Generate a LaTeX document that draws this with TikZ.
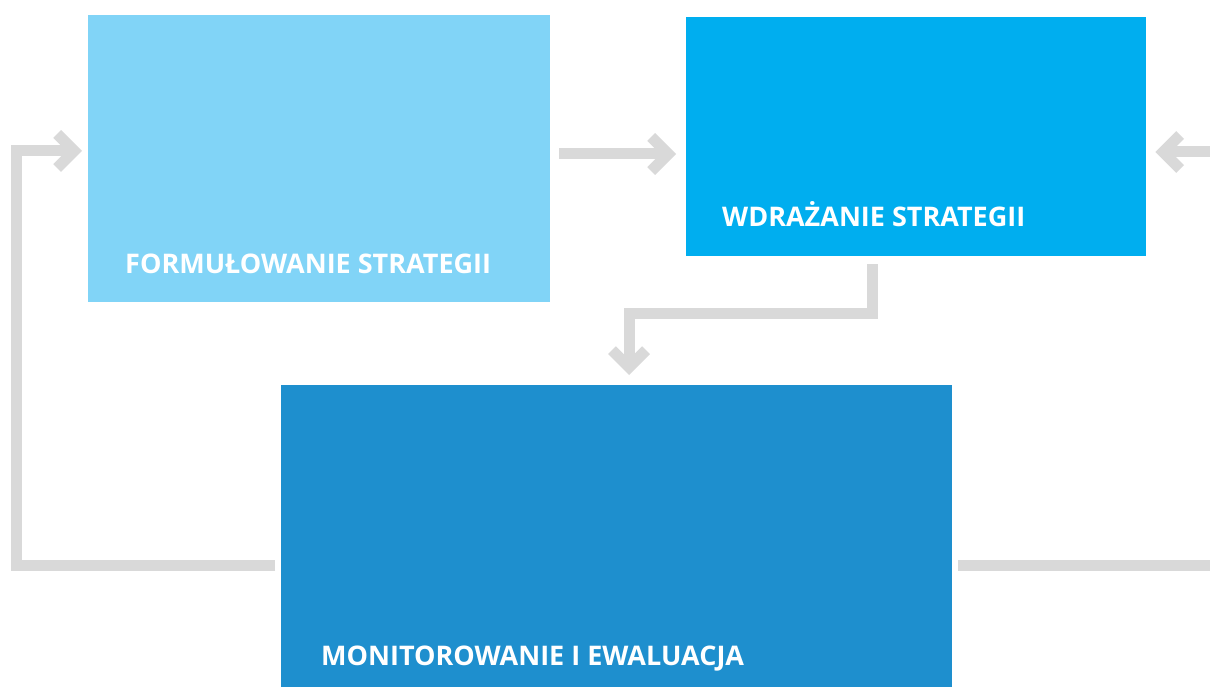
\documentclass[tikz,border=0pt]{standalone}
\usepackage{fontspec}
\setmainfont{Open Sans}
\usetikzlibrary{arrows.meta}
\definecolor{formblue}{HTML}{81D4F7}
\definecolor{wdrblue}{HTML}{00AEEF}
\definecolor{monblue}{HTML}{1E8FCE}
\definecolor{flowgray}{HTML}{D9D9D9}
\begin{document}
\begin{tikzpicture}[x=1pt,y=-1pt]
\tikzstyle{box}=[draw=none, inner sep=0pt, anchor=north west]
\tikzstyle{boxtext}=[inner sep=0pt, anchor=base west, text=white, font=\fontsize{27}{30}\selectfont\bfseries]
\tikzstyle{flow}=[draw=flowgray, line width=11pt, line join=miter]
\tikzstyle{flowtip}=[-{Straight Barb[length=17pt, width=34pt]}]
\useasboundingbox (0,0) rectangle (1210,687);
\node [box, fill=formblue, minimum width=462pt, minimum height=287pt] (form) at (88,15) {};
\node [box, fill=wdrblue, minimum width=460pt, minimum height=239pt] (wdr) at (686,17) {};
\node [box, fill=monblue, minimum width=671pt, minimum height=302pt] (mon) at (281,385) {};
\node [boxtext] (formtext) at (125,273) {FORMUŁOWANIE STRATEGII};
\node [boxtext] (wdrtext) at (722,226) {WDRAŻANIE STRATEGII};
\node [boxtext] (montext) at (321,665) {MONITOROWANIE I EWALUACJA};
\coordinate (loopleft) at (16.5,151);
\coordinate (rightin) at (1215,152);
\coordinate (rightout) at (1215,565);
\coordinate (bendright) at (872,313);
\coordinate (bendleft) at (629,313);
\draw [flow, flowtip, shorten <=9pt, shorten >=10pt] (form.east |- 0,154) -- (wdr.west |- 0,154);
\draw [flow, flowtip, shorten <=6pt, shorten >=6pt] (mon.west |- 0,565) -| (loopleft) -- (form.west |- loopleft);
\draw [flow, flowtip, shorten >=9pt] (rightin) -- (wdr.east |- rightin);
\draw [flow, shorten <=6pt] (mon.east |- rightout) -- (rightout);
\draw [flow, flowtip, shorten <=8pt, shorten >=10pt] (wdr.south -| bendright) -- (bendright) -- (bendleft) -- (mon.north -| bendleft);
\end{tikzpicture}
\end{document}
